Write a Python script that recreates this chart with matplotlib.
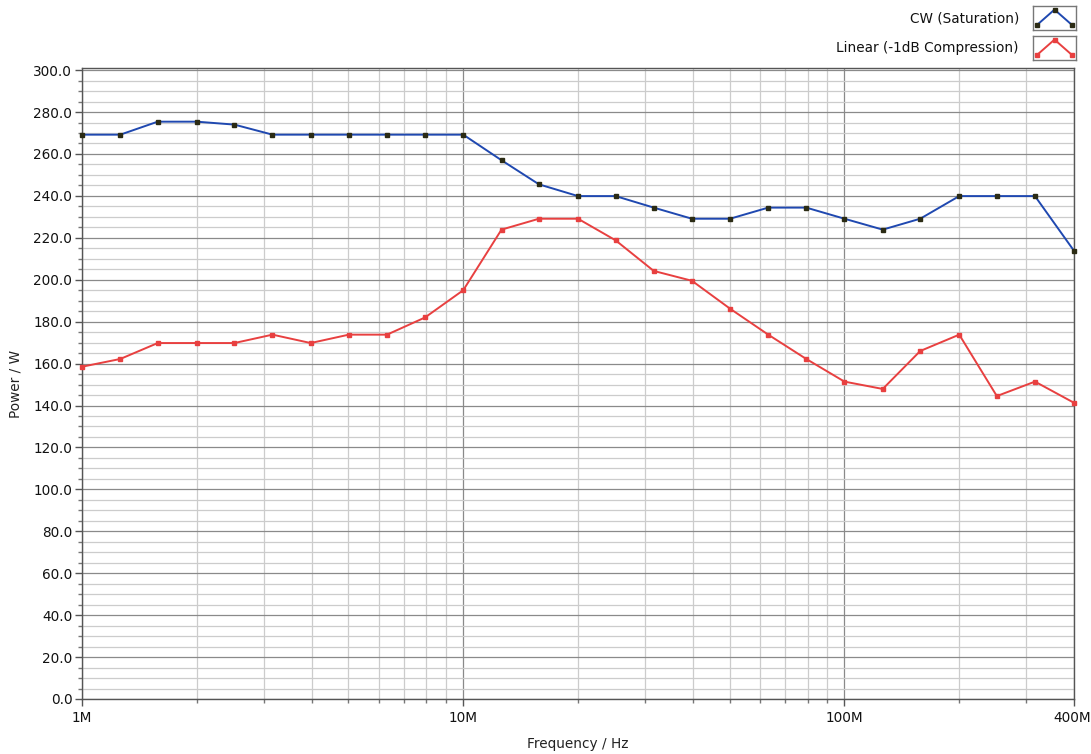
import numpy as np
import matplotlib
matplotlib.use("Agg")
from matplotlib import pyplot as plt
from matplotlib import transforms
from matplotlib.ticker import FixedLocator, FuncFormatter, MultipleLocator, NullFormatter

# frequency points, 10 per decade from 1 MHz to ~400 MHz
freq_hz = [1.0e6, 1.26e6, 1.58e6, 2.0e6, 2.51e6, 3.16e6, 3.98e6, 5.01e6, 6.31e6, 7.94e6,
           1.0e7, 1.26e7, 1.58e7, 2.0e7, 2.51e7, 3.16e7, 3.98e7, 5.01e7, 6.31e7, 7.94e7,
           1.0e8, 1.26e8, 1.58e8, 2.0e8, 2.51e8, 3.16e8, 4.0e8]

cw_sat = [269.2, 269.2, 275.4, 275.4, 274.0, 269.2, 269.2, 269.2, 269.2, 269.2,
          269.2, 257.0, 245.5, 239.9, 239.9, 234.4, 229.1, 229.1, 234.4, 234.4,
          229.1, 223.9, 229.1, 239.9, 239.9, 239.9, 213.8]

lin_1db = [158.5, 162.2, 169.8, 169.8, 169.8, 173.8, 169.8, 173.8, 173.8, 182.0,
           195.0, 223.9, 229.1, 229.1, 218.8, 204.2, 199.5, 186.2, 173.8, 162.2,
           151.4, 147.9, 166.0, 173.8, 144.5, 151.4, 141.3]

series_names = ["CW (Saturation)", "Linear (-1dB Compression)"]
x_major = [1e6, 1e7, 1e8, 4e8]
x_labels = {1e6: "1M", 1e7: "10M", 1e8: "100M", 4e8: "400M"}

blue = "#1f48b0"
blue_mk = "#2b2b14"
red = "#e84040"
fs = 9.8

W, H = 1091, 754
fig = plt.figure(figsize=(W / 100, H / 100), dpi=100)
ax = fig.add_axes([82 / W, (H - 699) / H, (1074 - 82) / W, (699 - 68) / H])

ax.set_xscale("log")
ax.set_xlim(1e6, 4e8)
ax.set_ylim(0, 301)

minors = [m * 10 ** d for d in range(6, 9) for m in range(2, 10) if m * 10 ** d < 4e8]
ax.xaxis.set_major_locator(FixedLocator(x_major))
ax.xaxis.set_minor_locator(FixedLocator(minors))
ax.xaxis.set_major_formatter(FuncFormatter(lambda v, p: x_labels.get(v, "")))
ax.xaxis.set_minor_formatter(NullFormatter())
ax.yaxis.set_major_locator(MultipleLocator(20))
ax.yaxis.set_minor_locator(MultipleLocator(5))
ax.yaxis.set_major_formatter(FuncFormatter(lambda v, p: f"{v:.1f}"))

ax.grid(which="major", color="#8a8a8a", lw=0.9)
ax.grid(which="minor", color="#cccccc", lw=0.9)
ax.set_axisbelow(True)

for s in ax.spines.values():
    s.set_color("#555555")
    s.set_linewidth(1.0)

ax.tick_params(which="major", direction="out", length=5, width=1, color="#555555",
               labelsize=fs, labelcolor="#111111", pad=2)
ax.tick_params(which="minor", direction="out", length=3, width=1, color="#777777")
ax.tick_params(axis="x", which="major", pad=4)

ax.plot(freq_hz, cw_sat, color=blue, lw=1.4, marker="s", ms=3.5,
        mfc=blue_mk, mec=blue_mk, clip_on=False, zorder=3)
ax.plot(freq_hz, lin_1db, color=red, lw=1.4, marker="s", ms=3.5,
        mfc=red, mec=red, clip_on=False, zorder=3)

ax.set_xlabel("Frequency / Hz", fontsize=fs, color="#222222", labelpad=8)
ax.set_ylabel("Power / W", fontsize=fs, color="#222222", labelpad=8)

# keep the last x label inside the figure
fig.canvas.draw()
for lbl in ax.get_xticklabels():
    if lbl.get_text() == "400M":
        lbl.set_transform(lbl.get_transform() + transforms.ScaledTranslation(-2 / 100, 0, fig.dpi_scale_trans))

# legend drawn like the original: text then a small boxed sample
for i, (name, col, mk) in enumerate(zip(series_names, [blue, red], [blue_mk, red])):
    yc = 18 + i * 30
    fig.text(1019 / W, 1 - yc / H, name, ha="right", va="center", fontsize=fs, color="#111111")
    lax = fig.add_axes([1033 / W, 1 - (yc + 12) / H, 43 / W, 24 / H])
    lax.set_xlim(0, 1)
    lax.set_ylim(0, 1)
    lax.set_xticks([])
    lax.set_yticks([])
    for s in lax.spines.values():
        s.set_color("#777777")
        s.set_linewidth(1.0)
    lax.plot([0.1, 0.5, 0.9], [0.22, 0.85, 0.22], color=col, lw=1.4, marker="s", ms=3.5,
             mfc=mk, mec=mk)

fig.savefig("out.png", dpi=100)
